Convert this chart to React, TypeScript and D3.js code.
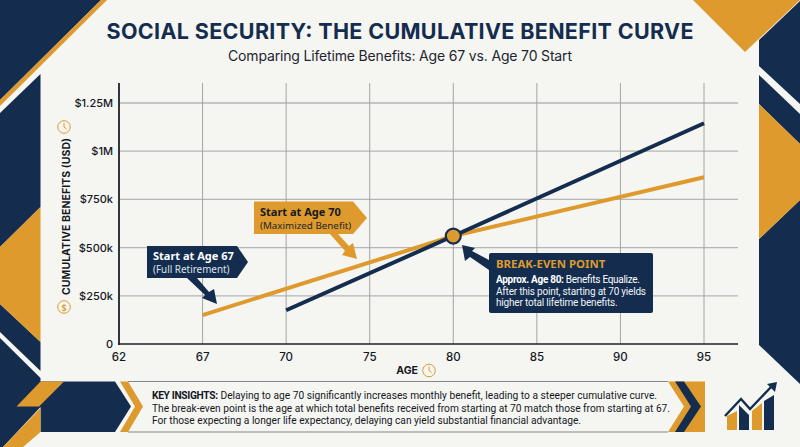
import React from 'react'
import * as d3 from 'd3'

const NAVY = '#142d4f'
const GOLD = '#df9a2d'
const PAPER = '#f5f5f2'
const INK = '#14181f'
const SANS = '"Noto Sans", "Open Sans", sans-serif'
const HEAD = 'Inter, "Noto Sans", sans-serif'
const SMALL = 'Roboto, "Noto Sans", sans-serif'

// ages are evenly spaced on the axis even though the gaps differ
const ageTicks = [62, 67, 70, 75, 80, 85, 90, 95]
const benefitTicks = [0, 250000, 500000, 750000, 1000000, 1250000]
const benefitLabels = ['0', '$250k', '$500k', '$750k', '$1M', '$1.25M']

const start67Ages = [67, 80, 95]
const start67Values = [150000, 560000, 865000]
const start70Ages = [70, 80, 95]
const start70Values = [175000, 560000, 1145000]
const breakEvenAge = 80
const breakEvenValue = 560000

const insightLines = [
  'Delaying to age 70 significantly increases monthly benefit, leading to a steeper cumulative curve.',
  'The break-even point is the age at which total benefits received from starting at 70 match those from starting at 67.',
  'For those expecting a longer life expectancy, delaying can yield substantial financial advantage.',
]

const x = d3.scalePoint<number>().domain(ageTicks).range([119, 704])
const y = d3.scaleLinear().domain([0, 1250000]).range([344, 103])

const line = d3
  .line<[number, number]>()
  .x((d) => x(d[0]) as number)
  .y((d) => y(d[1]))

const zip = (ages: number[], values: number[]) =>
  ages.map((a, i) => [a, values[i]] as [number, number])

// page furniture, not data
const navyShapes = [
  '0,0 101,0 0,100',
  '40.5,74 40.5,207 0,247 0,113',
  '0,304 40.5,342 40.5,371 0,332',
  '0,338 40.5,378 40.5,381.5 115,381.5 131,406.5 115,432 40.5,432 40.5,407 3,447 0,447',
  '800,1 800,104 759,66 759,40',
  '759,75 800,114 800,144 759,104',
  '759,239 800,200 800,384 759,345',
]
const goldShapes = [
  '101,0 107,0 0,106 0,100',
  '40.5,207 40.5,342 0,304 0,247',
  '40.5,381.5 64,381.5 39,406.5 16.5,406.5',
  '40.5,408 40.5,432 23,447 3,447',
  '693,0 800,0 745,52',
  '759,104 800,144 800,200 759,239',
  '120,381.5 128,381.5 143,406.5 128,432 120,432 135,406.5',
  '668,381.5 705,381.5 705,432 668,432 684,406.5',
]
const chevron = '675,381.5 684,381.5 701,406.5 684,432 675,432 691,406.5'

function Clock({ cx, cy }: { cx: number; cy: number }) {
  return (
    <g fill="none" stroke={GOLD} strokeWidth={1}>
      <circle cx={cx} cy={cy} r={6.3} />
      <path d={`M${cx},${cy - 4}V${cy}L${cx + 2.5},${cy + 2}`} />
    </g>
  )
}

export default function App() {
  const top = 83
  const bottom = y(0)
  return (
    <svg
      width={800}
      height={447}
      viewBox="0 0 800 447"
      style={{ position: 'fixed', left: 0, top: 0 }}
      fontFamily={SANS}
    >
      <rect width={800} height={447} fill={PAPER} />
      {navyShapes.map((p) => (
        <polygon key={p} points={p} fill={NAVY} />
      ))}
      {goldShapes.map((p) => (
        <polygon key={p} points={p} fill={GOLD} />
      ))}
      <polygon points={chevron} fill={NAVY} />

      <text x={400} y={39} textAnchor="middle" textLength={587} fontFamily={HEAD} fontWeight={700} fontSize={21.5} fill={NAVY}>
        SOCIAL SECURITY: THE CUMULATIVE BENEFIT CURVE
      </text>
      <text x={400} y={61} textAnchor="middle" textLength={344} fontFamily={HEAD} fontSize={14} fill="#1d2530">
        Comparing Lifetime Benefits: Age 67 vs. Age 70 Start
      </text>

      {/* grid */}
      {benefitTicks.slice(1).map((t) => (
        <line key={t} x1={119} x2={738} y1={y(t)} y2={y(t)} stroke="#b4b5b8" strokeWidth={1.3} />
      ))}
      {ageTicks.slice(1).map((a) => (
        <line key={a} x1={x(a)} x2={x(a)} y1={top} y2={bottom} stroke="#a3a4a6" strokeWidth={1} />
      ))}
      <line x1={119} x2={119} y1={top} y2={bottom + 1} stroke="#33363b" strokeWidth={2} />
      <line x1={118} x2={738} y1={bottom} y2={bottom} stroke="#1c1f24" strokeWidth={1.6} />

      {/* ticks */}
      {benefitTicks.map((t, i) => (
        <text key={t} x={113} y={y(t) + 4} textAnchor="end" fontFamily={HEAD} fontWeight={500} fontSize={11} fill={INK}>
          {benefitLabels[i]}
        </text>
      ))}
      {ageTicks.map((a) => (
        <text key={a} x={x(a)} y={361} textAnchor="middle" fontFamily={HEAD} fontWeight={500} fontSize={11.5} fill={INK}>
          {a}
        </text>
      ))}

      <text x={418} y={374} textAnchor="end" fontFamily={HEAD} fontWeight={700} fontSize={10.5} fill={INK}>
        AGE
      </text>
      <Clock cx={429} cy={370.5} />
      <text
        transform="translate(69.5,216.5) rotate(-90)"
        textAnchor="middle"
        textLength={157}
        fontFamily={HEAD}
        fontWeight={700}
        fontSize={10.5}
        fill={INK}
      >
        CUMULATIVE BENEFITS (USD)
      </text>
      <Clock cx={64} cy={127} />
      <circle cx={64} cy={307} r={6.3} fill="none" stroke={GOLD} strokeWidth={1} />
      <text x={64} y={310.5} textAnchor="middle" fontSize={9} fontWeight={600} fill={GOLD}>
        $
      </text>

      {/* curves */}
      <path d={line(zip(start67Ages, start67Values)) ?? ''} fill="none" stroke={GOLD} strokeWidth={4} />
      <path d={line(zip(start70Ages, start70Values)) ?? ''} fill="none" stroke={NAVY} strokeWidth={4} />
      <circle cx={x(breakEvenAge)} cy={y(breakEvenValue)} r={7.5} fill={GOLD} stroke={NAVY} strokeWidth={2.2} />

      {/* age 70 callout */}
      <polygon points="254,201.5 353,201.5 367,218 353,234 254,234" fill={GOLD} />
      <polygon points="330,234 338,234 349,246 353,243 357,259 342,255 345,251" fill={GOLD} />
      <text x={260} y={216} fontWeight={700} fontSize={11} fill={INK}>
        Start at Age 70
      </text>
      <text x={260} y={229} fontSize={9.8} fill="#22262c">
        (Maximized Benefit)
      </text>

      {/* age 67 callout */}
      <polygon points="147,246 237,246 248,262 237,278 147,278" fill={NAVY} />
      <polygon points="187,278 197,278 209,292 214,289 217,304 202,298 205,295" fill={NAVY} />
      <text x={153} y={260} fontWeight={700} fontSize={11} fill="#fff">
        Start at Age 67
      </text>
      <text x={153} y={273} fontSize={9.9} fill="#dfe3e9">
        (Full Retirement)
      </text>

      {/* break-even callout */}
      <rect x={489} y={253} width={164} height={60} rx={2} fill={NAVY} />
      <polygon points="462,245 475,248 472,251 489,260 489,270 470,257 465,261" fill={NAVY} />
      <text x={496} y={268} fontWeight={700} fontSize={11.4} fill={GOLD}>
        BREAK-EVEN POINT
      </text>
      <text x={496} y={283} textLength={144} fontFamily={SMALL} fontSize={10} fill="#fff">
        <tspan fontWeight={700}>Approx. Age 80:</tspan> Benefits Equalize.
      </text>
      <text x={496} y={294.5} textLength={150} fontFamily={SMALL} fontSize={10} fill="#f0f2f5">
        After this point, starting at 70 yields
      </text>
      <text x={496} y={306} textLength={121.6} fontFamily={SMALL} fontSize={10} fill="#f0f2f5">
        higher total lifetime benefits.
      </text>

      {/* insights strip */}
      <path d="M128,381.5H668M128,432H668" stroke="#85878a" strokeWidth={1} fill="none" />
      <text x={152} y={399} textLength={66} fontFamily={SMALL} fontSize={10.2} fontWeight={700} fill={INK}>
        KEY INSIGHTS:
      </text>
      <text x={220.5} y={399} textLength={436.5} fontFamily={SMALL} fontSize={10.2} fill={INK}>
        {insightLines[0]}
      </text>
      <text x={152} y={411.7} textLength={518} fontFamily={SMALL} fontSize={10.2} fill={INK}>
        {insightLines[1]}
      </text>
      <text x={152} y={424.4} textLength={429} fontFamily={SMALL} fontSize={10.2} fill={INK}>
        {insightLines[2]}
      </text>

      {/* corner icon */}
      <path d="M727,430V416L737,411V430Z M752,430V411L762,403V430Z" fill={GOLD} />
      <path d="M739,430V405L749,415V430Z M764,430V401L774,395V430Z" fill={NAVY} />
      <path d="M725,416L741,399L750,409L772,386" fill="none" stroke={NAVY} strokeWidth={2.4} />
      <polygon points="777,382 775,392 767,384" fill={NAVY} />
    </svg>
  )
}
